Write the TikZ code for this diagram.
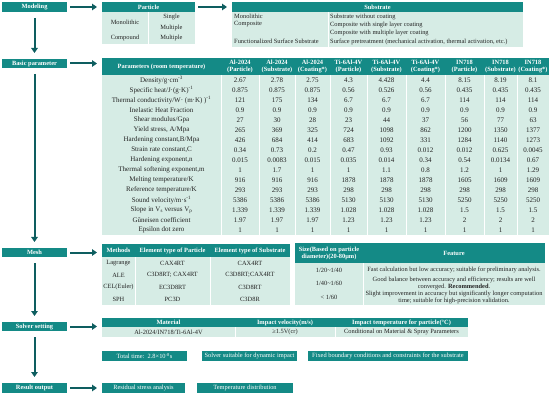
\documentclass[tikz,border=0pt]{standalone}
\usepackage{fontspec}
\setmainfont{Liberation Serif}
\usetikzlibrary{arrows.meta}
\definecolor{tealA}{RGB}{20,138,134}
\definecolor{lightA}{RGB}{214,236,229}
\definecolor{arrowA}{RGB}{14,94,96}
\definecolor{txtA}{RGB}{35,35,35}
\newcommand\myfs{\fontsize{6.4}{7}\selectfont}
\newcommand\myfsb{\fontsize{7}{7.6}\selectfont}
\newcommand\mybox[7]{%
  \pgfmathsetmacro\myW{#4-#2}\pgfmathsetmacro\myH{#5-#3}%
  \pgfmathsetmacro\myX{(#2+#4)/2}\pgfmathsetmacro\myY{(#3+#5)/2}%
  \node[#6, minimum width=\myW pt, minimum height=\myH pt] (#1) at (\myX,\myY) {#7};}
\begin{document}
\begin{tikzpicture}[x=1pt,y=-1pt,
  hdr/.style={fill=tealA,text=white,font=\myfs\bfseries,inner sep=0pt,outer sep=0pt,align=center},
  bdy/.style={fill=lightA,inner sep=0pt,outer sep=0pt},
  tbox/.style={fill=tealA,text=white,font=\myfs,inner sep=0pt,outer sep=0pt,align=center},
  lbox/.style={fill=tealA,text=white,font=\myfs\bfseries,inner sep=0pt,outer sep=0pt,align=center},
  htxt/.style={text=white,font=\myfs\bfseries,inner sep=0pt,align=center},
  txt/.style={font=\myfs,text=txtA,inner sep=0pt,align=center},
  btxt/.style={font=\myfsb,text=txtA,inner sep=0pt,align=center},
  ltxt/.style={txt,anchor=west,align=left},
  sepline/.style={draw=white,line width=0.7pt},
  harr/.style={draw=arrowA,line width=2pt,-{Triangle[length=5pt,width=6.5pt]},shorten <=3pt,shorten >=5pt},
  varr/.style={draw=arrowA,line width=2pt,-{Triangle[length=5pt,width=6.5pt]},shorten <=6pt,shorten >=6pt}
]
\useasboundingbox (0,0) rectangle (550,396);

% left column
\mybox{mod}{2}{2}{67}{12}{lbox}{Modeling}
\mybox{bas}{2}{59}{67}{68}{lbox}{Basic parameter}
\mybox{mesh}{2}{248}{67}{257}{lbox}{Mesh}
\mybox{sol}{2}{322}{67}{331}{lbox}{Solver setting}
\mybox{res}{2}{383}{67}{393}{lbox}{Result output}

% Particle
\mybox{partH}{102}{2}{195}{12}{hdr}{Particle}
\mybox{partB}{102}{12}{195}{44}{bdy}{}
\draw[sepline] (148,12) -- (148,44);
\node[txt] (pm) at (125,22.5) {Monolithic};
\node[txt] (pc) at (125,38) {Compound};
\node[txt] (ps) at (171.5,17) {Single};
\node[txt] (pm1) at (171.5,27.5) {Multiple};
\node[txt] (pm2) at (171.5,38) {Multiple};

% Substrate
\mybox{subH}{232}{2}{523}{12}{hdr}{Substrate}
\mybox{subB}{232}{12}{523}{47}{bdy}{}
\draw[sepline] (328,12) -- (328,47);
\node[ltxt] (s1) at (234,16.5) {Monolithic};
\node[ltxt] (s2) at (234,24.5) {Composite};
\node[ltxt] (s3) at (234,41.5) {Functionalized Surface Substrate};
\node[ltxt] (t1) at (330,16.5) {Substrate without coating};
\node[ltxt] (t2) at (330,24.5) {Composite with single layer coating};
\node[ltxt] (t3) at (330,32.5) {Composite with multiple layer coating};
\node[ltxt] (t4) at (330,41.5) {Surface pretreatment (mechanical activation, thermal activation, etc.)};

% Basic parameter table
\mybox{tabH}{102}{58}{549}{75}{hdr}{}
\mybox{tabB}{102}{75}{549}{235}{bdy}{}
\foreach \xx in {221,259,295,330,367,406,445,484,517}
  \draw[sepline] (\xx,75) -- (\xx,235);
\node[htxt] (ph) at (161.5,66.5) {Parameters (room temperature)};
\foreach \h [count=\j] in {{Al-2024\\(Particle)},{Al-2024\\(Substrate)},{Al-2024\\(Coating*)},
  {Ti-6Al-4V\\(Particle)},{Ti-6Al-4V\\(Substrate)},{Ti-6Al-4V\\(Coating*)},
  {IN718\\(Particle)},{IN718\\(Substrate)},{IN718\\(Coating*)}}{
  \pgfmathsetmacro\xc{{240,277,312.5,348.5,386.5,425.5,464.5,500.5,533}[\j-1]}
  \node[htxt] (h\j) at (\xc,66.5) {\h};
}
\foreach \p [count=\i] in {{Density/g·cm\textsuperscript{-3}},{Specific heat/J·(g·K)\textsuperscript{-1}},
  {Thermal conductivity/W· (m·K) )\textsuperscript{-1}},{Inelastic Heat Fraction},{Shear modulus/Gpa},
  {Yield stress, A/Mpa},{Hardening constant,B/Mpa},{Strain rate constant,C},{Hardening exponent,n},
  {Thermal softening exponent,m},{Melting temperature/K},{Reference temperature/K},
  {Sound velocity/m·s\textsuperscript{-1}},{Slope in V\textsubscript{s} versus V\textsubscript{p}},
  {Gŭneisen coefficient},{Epsilon dot zero}}{
  \node[btxt] (p\i) at (161.5,{75+(\i-0.5)*10}) {\p};
}
\foreach \row [count=\i] in {{2.67,2.78,2.75,4.3,4.428,4.4,8.15,8.19,8.1},
  {0.875,0.875,0.875,0.56,0.526,0.56,0.435,0.435,0.435},
  {121,175,134,6.7,6.7,6.7,114,114,114},
  {0.9,0.9,0.9,0.9,0.9,0.9,0.9,0.9,0.9},
  {27,30,28,23,44,37,56,77,63},
  {265,369,325,724,1098,862,1200,1350,1377},
  {426,684,414,683,1092,331,1284,1140,1273},
  {0.34,0.73,0.2,0.47,0.93,0.012,0.012,0.625,0.0045},
  {0.015,0.0083,0.015,0.035,0.014,0.34,0.54,0.0134,0.67},
  {1,1.7,1,1,1.1,0.8,1.2,1,1.29},
  {916,916,916,1878,1878,1878,1605,1609,1609},
  {293,293,293,298,298,298,298,298,298},
  {5386,5386,5386,5130,5130,5130,5250,5250,5250},
  {1.339,1.339,1.339,1.028,1.028,1.028,1.5,1.5,1.5},
  {1.97,1.97,1.97,1.23,1.23,1.23,2,2,2},
  {1,1,1,1,1,1,1,1,1}}{
  \foreach \v [count=\j] in \row {
    \pgfmathsetmacro\xc{{240,277,312.5,348.5,386.5,425.5,464.5,500.5,533}[\j-1]}
    \node[btxt] (v\i-\j) at (\xc,{75+(\i-0.5)*10}) {\v};
  }
}

% Mesh element table
\mybox{mH}{102}{244}{290}{257}{hdr}{}
\mybox{mB}{102}{257}{290}{305}{bdy}{}
\draw[sepline] (135,257) -- (135,305);
\draw[sepline] (210,257) -- (210,305);
\node[htxt] (mh1) at (118.5,250.5) {Methods};
\node[htxt] (mh2) at (172.5,250.5) {Element type of Particle};
\node[htxt] (mh3) at (250,250.5) {Element type of Substrate};
\foreach \a/\b/\c [count=\i] in {Lagrange/CAX4RT/CAX4RT,ALE/{C3D8RT; CAX4RT}/C3D8RT;CAX4RT,
  CEL(Euler)/EC3D8RT/C3D8RT,SPH/PC3D/C3D8R}{
  \node[txt] (ma\i) at (118.5,{251+\i*12}) {\a};
  \node[txt] (mb\i) at (172.5,{251+\i*12}) {\b};
  \node[txt] (mc\i) at (250,{251+\i*12}) {\c};
}

% Mesh size table
\mybox{fH}{295}{243}{545}{263}{hdr}{}
\mybox{fB}{295}{263}{545}{305}{bdy}{}
\draw[sepline] (363,263) -- (363,305);
\node[htxt] (fh1) at (329,253) {Size(Based on particle\\diameter)(20-80μm)};
\node[htxt] (fh2) at (454,253) {Feature};
\node[txt] (fa1) at (329,270) {1/20\textasciitilde1/40};
\node[txt] (fa2) at (329,283.5) {1/40\textasciitilde1/60};
\node[txt] (fa3) at (329,297.5) {\textless{} 1/60};
\node[txt] (fb1) at (454,270) {Fast calculation but low accuracy; suitable for preliminary analysis.};
\node[txt] (fb2) at (454,283.5) {Good balance between accuracy and efficiency; results are well\\converged. \textbf{Recommended}.};
\node[txt] (fb3) at (454,297.5) {Slight improvement in accuracy but significantly longer computation\\time; suitable for high-precision validation.};

% Solver table
\mybox{matH}{102}{318}{468}{327}{hdr}{}
\mybox{matB}{102}{327}{468}{337}{bdy}{}
\draw[sepline] (235,327) -- (235,337);
\draw[sepline] (335,327) -- (335,337);
\node[htxt] (sh1) at (168.5,322.5) {Material};
\node[htxt] (sh2) at (285,322.5) {Impact velocity(m/s)};
\node[htxt] (sh3) at (401.5,322.5) {Impact temperature for particle(°C)};
\node[txt] (sv1) at (168.5,332) {Al-2024/IN718/Ti-6Al-4V};
\node[txt] (sv2) at (285,332) {≥1.5V(cr)};
\node[txt] (sv3) at (401.5,332) {Conditional on Material \& Spray Parameters};

\mybox{tt}{102}{351}{187}{361}{tbox}{Total time:\enspace2.8×10\textsuperscript{-8}s}
\mybox{ss}{202}{351}{297}{361}{tbox}{Solver suitable for dynamic impact}
\mybox{fx}{308}{351}{468}{361}{tbox}{Fixed boundary conditions and constraints for the substrate}

% Result
\mybox{rs}{102}{383}{185}{393}{tbox}{Residual stress analysis}
\mybox{td}{197}{383}{293}{393}{tbox}{Temperature distribution}

% arrows
\draw[harr] (mod.east) -- (mod.east -| partH.west);
\draw[harr] (partH.east) -- (partH.east -| subH.west);
\draw[harr] (bas.east) -- (bas.east -| tabH.west);
\draw[harr] (mesh.east) -- (mesh.east -| mH.west);
\draw[harr] (sol.east) -- (sol.east -| matH.west);
\draw[harr] (res.east) -- (res.east -| rs.west);
\draw[varr] (mod.south) -- (bas.north);
\draw[varr] (bas.south) -- (mesh.north);
\draw[varr] (mesh.south) -- (sol.north);
\draw[varr] (sol.south) -- (res.north);
\end{tikzpicture}
\end{document}
